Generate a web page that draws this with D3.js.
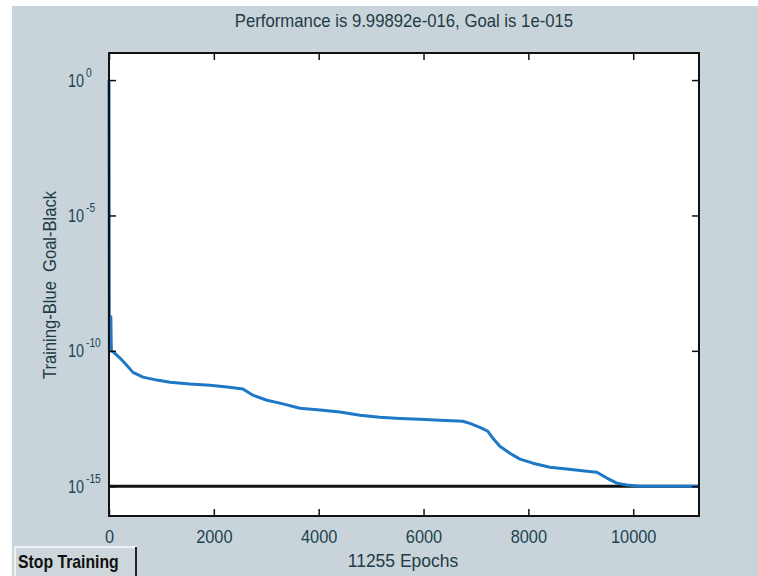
<!DOCTYPE html>
<html>
<head>
<meta charset="utf-8">
<script src="https://cdn.jsdelivr.net/npm/d3@7"></script>
<style>
  body { margin:0; background:#fff; }
  svg text { font-family:"Liberation Sans Narrow","Arial Narrow","Liberation Sans",Arial,sans-serif; }
</style>
</head>
<body>
<div id="gt" style="width:758px;height:576px"></div>
<script>
// training record
var epochs = [0, 6, 20, 35, 45, 82, 210, 338, 458, 648, 915, 1163, 1545, 1926, 2250, 2555,
    2746, 3013, 3261, 3642, 4024, 4405, 4787, 5168, 5549, 5931, 6312, 6751, 6884, 7075,
    7228, 7323, 7456, 7647, 7838, 8086, 8410, 8734, 9115, 9306, 9497, 9688, 9878, 10126,
    10507, 11255];
var perf = [1, 1.2e-10, 1.0e-10, 1.8e-9, 1.0e-10, 9.1e-11, 5.4e-11, 2.95e-11, 1.6e-11,
    1.07e-11, 8.3e-12, 6.9e-12, 5.9e-12, 5.4e-12, 4.6e-12, 3.9e-12, 2.3e-12, 1.5e-12,
    1.17e-12, 7.6e-13, 6.5e-13, 5.5e-13, 4.2e-13, 3.5e-13, 3.2e-13, 3.0e-13, 2.75e-13,
    2.5e-13, 2.1e-13, 1.5e-13, 1.07e-13, 5.9e-14, 3.0e-14, 1.66e-14, 1.0e-14, 7.1e-15,
    5.0e-15, 4.3e-15, 3.6e-15, 3.3e-15, 2.0e-15, 1.3e-15, 1.1e-15, 1.0e-15, 9.999e-16,
    9.99892e-16];
var goal = 1e-15;
var totalEpochs = 11255;
var xTicks = [0, 2000, 4000, 6000, 8000, 10000];
var yTicks = [1, 1e-5, 1e-10, 1e-15];
var yExps = ["0", "-5", "-10", "-15"];

var margin = {t:53, l:109, b:60, r:59},
    W = 758, H = 576,
    width = W - margin.l - margin.r,
    height = H - margin.t - margin.b;

// no narrow font installed, so squeeze text horizontally
function squeeze(sel, k) {
    sel.each(function() {
        var L = this.getComputedTextLength();
        d3.select(this)
            .attr("textLength", L * k)
            .attr("lengthAdjust", "spacingAndGlyphs");
    });
}

var svg = d3.select("#gt").append("svg")
    .attr("width", W)
    .attr("height", H);

// grey figure panel
svg.append("rect")
    .attr("x", 12).attr("y", 6)
    .attr("width", W - 12).attr("height", H - 6)
    .attr("fill", "#c9d4da");

var x = d3.scaleLinear().domain([0, totalEpochs]).range([0, width]);
var y = d3.scaleLog().domain([Math.pow(10, -16.1), 10]).range([height, 0]);

var g = svg.append("g")
    .attr("transform", "translate(" + margin.l + "," + margin.t + ")");

g.append("rect")
    .attr("width", width).attr("height", height)
    .attr("fill", "#fff");

var line = d3.line()
    .x(function(d) { return x(d[0]); })
    .y(function(d) { return y(d[1]); });

// goal line
g.append("path")
    .attr("d", line([[0, goal], [totalEpochs, goal]]))
    .attr("stroke", "#111")
    .attr("stroke-width", 3)
    .attr("fill", "none");

// training curve
g.append("path")
    .attr("d", line(epochs.map(function(e, i) { return [e, perf[i]]; })))
    .attr("stroke", "#1f78c6")
    .attr("stroke-width", 3)
    .attr("stroke-linejoin", "round")
    .attr("fill", "none");

// axes, ticks pointing in on all four sides
var tl = 7;
var xb = g.append("g").attr("class", "axis")
    .attr("transform", "translate(0," + height + ")")
    .call(d3.axisBottom(x).tickValues(xTicks).tickSizeInner(-tl).tickSizeOuter(0)
        .tickPadding(14).tickFormat(d3.format("d")));
g.append("g").attr("class", "axis")
    .call(d3.axisTop(x).tickValues(xTicks).tickSizeInner(-tl).tickSizeOuter(0).tickFormat(""));
var yl = g.append("g").attr("class", "axis")
    .call(d3.axisLeft(y).tickValues(yTicks).tickSizeInner(-tl).tickSizeOuter(0).tickFormat(""));
g.append("g").attr("class", "axis")
    .attr("transform", "translate(" + width + ",0)")
    .call(d3.axisRight(y).tickValues(yTicks).tickSizeInner(-tl).tickSizeOuter(0).tickFormat(""));

g.selectAll(".axis path").remove();
g.selectAll(".axis line").attr("stroke", "#111").attr("stroke-width", 1.5);

xb.selectAll("text")
    .attr("fill", "#1b4350")
    .style("font-size", "19px")
    .call(squeeze, 0.86);

// log labels as 10 with a raised exponent
yl.selectAll(".tick").each(function(d, i) {
    var t = d3.select(this);
    t.append("text")
        .attr("fill", "#1b4350")
        .attr("x", -25).attr("y", 6)
        .attr("text-anchor", "end")
        .style("font-size", "19px")
        .text("10")
        .call(squeeze, 0.76);
    t.append("text")
        .attr("fill", "#1b4350")
        .attr("x", -23).attr("y", -4)
        .attr("text-anchor", "start")
        .style("font-size", "12px")
        .text(yExps[i])
        .call(squeeze, 0.85);
});

// frame
g.append("rect")
    .attr("width", width).attr("height", height)
    .attr("fill", "none")
    .attr("stroke", "#111")
    .attr("stroke-width", 2);

svg.append("text")
    .attr("x", margin.l + width / 2).attr("y", 27)
    .attr("text-anchor", "middle")
    .attr("fill", "#1f3b45")
    .style("font-size", "19px")
    .text("Performance is 9.99892e-016, Goal is 1e-015")
    .call(squeeze, 0.88);

svg.append("text")
    .attr("x", margin.l + width / 2 - 1).attr("y", 567)
    .attr("text-anchor", "middle")
    .attr("fill", "#1f3b45")
    .style("font-size", "19px")
    .text("11255 Epochs")
    .call(squeeze, 0.92);

svg.append("text")
    .attr("transform", "translate(56,285) rotate(-90)")
    .attr("text-anchor", "middle")
    .attr("fill", "#1f3b45")
    .style("font-size", "18px")
    .style("white-space", "pre")
    .text("Training-Blue  Goal-Black")
    .call(squeeze, 0.92);

// stop button
var btn = svg.append("g").attr("transform", "translate(15,547)");
btn.append("rect")
    .attr("width", 122).attr("height", 29)
    .attr("fill", "#cdd6db");
btn.append("path")
    .attr("d", "M0,29 V0 H122")
    .attr("stroke", "#eef2f4").attr("stroke-width", 2).attr("fill", "none");
btn.append("path")
    .attr("d", "M121,0 V29")
    .attr("stroke", "#222").attr("stroke-width", 2).attr("fill", "none");
btn.append("text")
    .attr("x", 3).attr("y", 21)
    .attr("fill", "#111")
    .style("font-size", "19px")
    .style("font-weight", "bold")
    .text("Stop Training")
    .call(squeeze, 0.83);
</script>
</body>
</html>
